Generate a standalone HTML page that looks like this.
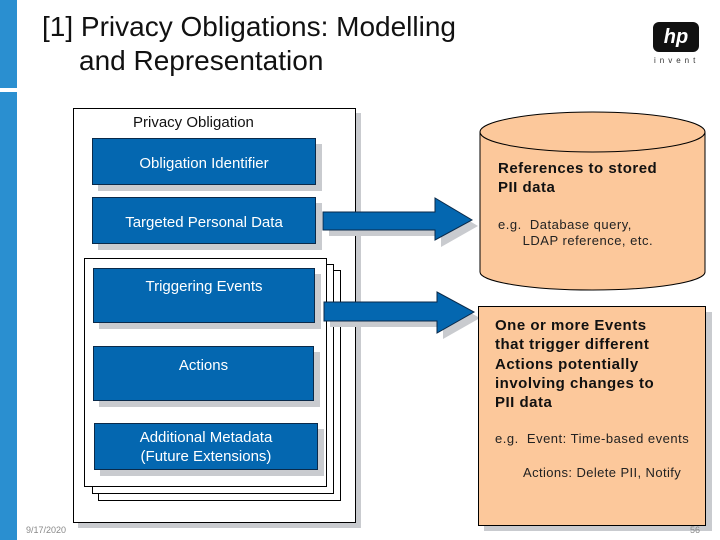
<!DOCTYPE html>
<html><head><style>
body{margin:0;width:720px;height:540px;background:#fff;position:relative;overflow:hidden;font-family:"Liberation Sans",sans-serif}
.a{position:absolute}
.bb{position:absolute;background:#0467b0;border:1px solid #0a2a4a;color:#fff;font-size:15px;text-align:center;box-shadow:6px 6px 0 #c9cbcf;box-sizing:border-box}
.fr{position:absolute;border:1px solid #000;background:#fff;box-sizing:border-box}
</style></head><body>
<div class="a" style="left:0;top:0;width:17px;height:88px;background:#2a8fd0"></div>
<div class="a" style="left:0;top:92px;width:17px;height:448px;background:#2a8fd0"></div>
<div class="a" style="left:42px;top:10px;font-size:28px;line-height:34px;color:#111">[1] Privacy Obligations: Modelling<br><span style="padding-left:37px">and Representation</span></div>
<div class="a" style="left:653px;top:22px;width:46px;height:30px;background:#111;border-radius:6px;color:#fff;font:italic bold 20px 'Liberation Sans',sans-serif;text-align:center;line-height:30px">hp</div>
<div class="a" style="left:654px;top:56px;font-size:8px;letter-spacing:4px;color:#333">invent</div>

<div class="fr" style="left:73px;top:108px;width:283px;height:415px;box-shadow:5px 5px 0 #c9cbcf"></div>
<div class="a" style="left:133px;top:114px;font-size:15px;color:#111">Privacy Obligation</div>
<div class="bb" style="left:92px;top:138px;width:224px;height:47px;padding-top:16px">Obligation Identifier</div>
<div class="bb" style="left:92px;top:197px;width:224px;height:47px;padding-top:16px">Targeted Personal Data</div>

<div class="fr" style="left:98px;top:270px;width:243px;height:231px"></div>
<div class="fr" style="left:92px;top:264px;width:242px;height:230px"></div>
<div class="fr" style="left:84px;top:258px;width:243px;height:229px"></div>
<div class="bb" style="left:93px;top:268px;width:222px;height:55px;padding-top:9px">Triggering Events</div>
<div class="bb" style="left:93px;top:346px;width:221px;height:55px;padding-top:10px">Actions</div>
<div class="bb" style="left:94px;top:423px;width:224px;height:47px;padding-top:4px;line-height:19px">Additional Metadata<br>(Future Extensions)</div>

<svg class="a" style="left:0;top:0" width="720" height="540">
<g fill="#c9cbcf"><polygon points="329,218 441,218 441,204 478,226 441,247 441,236 329,236"/>
<polygon points="330,308 443,308 443,298 480,318 443,339 443,327 330,327"/></g>
<g fill="#0467b0" stroke="#0a2a4a" stroke-width="1">
<polygon points="323,212 435,212 435,198 472,220 435,240 435,230 323,230"/>
<polygon points="324,302 437,302 437,292 474,312 437,333 437,321 324,321"/></g>
<path d="M480,132 L480,272 A112.5,18 0 0 0 705,272 L705,132 Z" fill="#fcc89b" stroke="#000"/>
<ellipse cx="592.5" cy="132" rx="112.5" ry="20" fill="#fcc89b" stroke="#000"/>
<rect x="484" y="312" width="228" height="219" fill="#c9cbcf"/>
<rect x="478.5" y="306.5" width="227" height="219" fill="#fcc89b" stroke="#000"/>
</svg>
<div class="a" style="left:498px;top:159px;font-size:15px;font-weight:bold;line-height:19px;letter-spacing:0.5px;color:#111">References to stored<br>PII data</div>
<div class="a" style="left:498px;top:217px;font-size:13px;line-height:16px;letter-spacing:0.5px;color:#222">e.g.&nbsp; Database query,<br>&nbsp;&nbsp;&nbsp;&nbsp;&nbsp;&nbsp;LDAP reference, etc.</div>
<div class="a" style="left:495px;top:316px;font-size:15px;font-weight:bold;line-height:19.3px;letter-spacing:0.5px;color:#111">One or more Events<br>that trigger different<br>Actions potentially<br>involving changes to<br>PII data</div>
<div class="a" style="left:495px;top:431px;font-size:13px;letter-spacing:0.5px;color:#222">e.g.&nbsp; Event: Time-based events</div>
<div class="a" style="left:523px;top:465px;font-size:13px;letter-spacing:0.4px;color:#222">Actions: Delete PII, Notify</div>
<div class="a" style="left:26px;top:525px;font-size:9px;color:#888">9/17/2020</div>
<div class="a" style="left:690px;top:525px;font-size:9px;color:#888">56</div>
</body></html>
